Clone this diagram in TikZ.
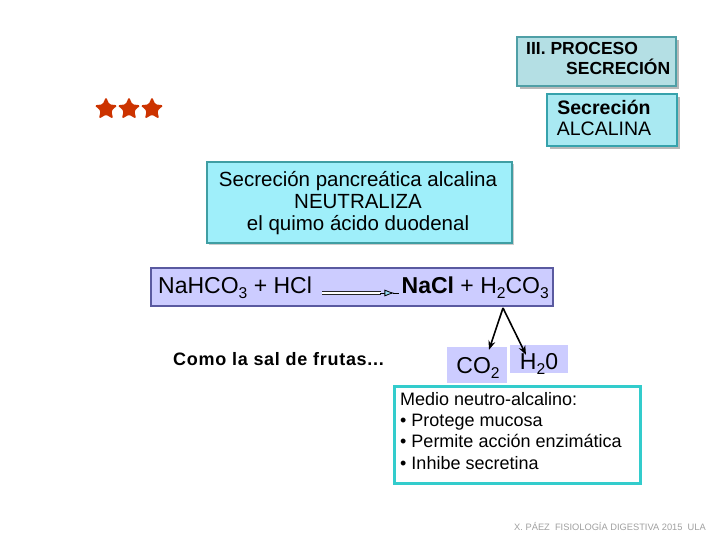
\documentclass[tikz,border=0pt]{standalone}
\usepackage{fontspec}
\setmainfont{Liberation Sans}
\usetikzlibrary{shapes.geometric,shadows,arrows.meta}
\definecolor{topfill}{HTML}{B4DFE4}
\definecolor{topdraw}{HTML}{4F9FA6}
\definecolor{alkfill}{HTML}{A9E9F2}
\definecolor{alkdraw}{HTML}{36A2AC}
\definecolor{panfill}{HTML}{9FEFFA}
\definecolor{pandraw}{HTML}{3F9EA3}
\definecolor{lav}{HTML}{CCCCFF}
\definecolor{lavdraw}{HTML}{5A5AA0}
\definecolor{turq}{HTML}{33CCCC}
\definecolor{starred}{HTML}{CC3300}
\newcommand{\chemsub}[1]{\raisebox{-0.4ex}{\scalebox{0.68}{#1}}}
\begin{document}
\begin{tikzpicture}[x=1pt,y=-1pt,
  shadowbox/.style={draw, line width=1.2pt, drop shadow={shadow xshift=3pt, shadow yshift=-3pt, fill=gray!55, opacity=1}},
  starnode/.style={star, star points=5, star point ratio=2.1, fill=starred, minimum size=24pt, inner sep=0pt, rounded corners=1.5pt},
  lavbox/.style={fill=lav, inner sep=0pt},
  arr/.style={-{Stealth[length=9pt,width=7pt]}, line width=1.6pt},
  rxnline/.style={line width=0.9pt, draw=black!85}
]
\useasboundingbox (0,0) rectangle (720,540);

% top title box
\node[shadowbox, draw=topdraw, fill=topfill, minimum width=159pt, minimum height=49pt] (title) at (596.5,61.5) {};
\node[font=\bfseries\fontsize{17.5}{20}\selectfont, align=left, anchor=north west, inner sep=0pt] (titletxt) at (526,42)
  {III. PROCESO\\\hspace*{40pt}SECRECIÓN};

% alcalina box
\node[shadowbox, draw=alkdraw, fill=alkfill, minimum width=130pt, minimum height=52pt] (alk) at (612,120) {};
\node[align=center, inner sep=0pt, font=\fontsize{19.5}{21}\selectfont] (alktxt) at (604,118)
  {\textbf{Secreción}\\ALCALINA};

% stars
\node[starnode] (s1) at (106,109) {};
\node[starnode] (s2) at (129,109) {};
\node[starnode] (s3) at (152,109) {};

% pancreatic box
\node[draw=pandraw, line width=1.5pt, fill=panfill, minimum width=305pt, minimum height=81pt,
  drop shadow={shadow xshift=2pt, shadow yshift=-2pt, fill=gray!40, opacity=1}] (pan) at (359.5,202.5) {};
\node[align=center, inner sep=0pt, font=\fontsize{20.5}{22}\selectfont] (pantxt) at (358,203)
  {Secreción pancreática alcalina\\NEUTRALIZA\\el quimo ácido duodenal};

% reaction box
\node[draw=lavdraw, line width=1.2pt, fill=lav, minimum width=402pt, minimum height=38pt] (rxn) at (352,287) {};
\node[anchor=west, inner sep=0pt, font=\fontsize{23}{26}\selectfont] (lhs) at (158,288) {NaHCO\chemsub{3} + HCl};
\node[anchor=east, inner sep=0pt, font=\fontsize{23}{26}\selectfont] (rhs) at (549,288) {\textbf{NaCl} + H\chemsub{2}CO\chemsub{3}};
\fill[white] ([xshift=10pt,yshift=-3.5pt]lhs.east) rectangle ([xshift=-20pt,yshift=-6.5pt]rhs.west);
\draw[rxnline] ([xshift=10pt,yshift=-3.5pt]lhs.east) -- ([xshift=-20pt,yshift=-3.5pt]rhs.west);
\draw[rxnline] ([xshift=10pt,yshift=-6.5pt]lhs.east) -- ([xshift=-20pt,yshift=-6.5pt]rhs.west);
\draw[line width=0.8pt, -{Latex[length=10pt,width=7pt,fill=cyan!40]}] ([xshift=-21pt,yshift=-5pt]rhs.west) -- ([xshift=-7pt,yshift=-5pt]rhs.west);
\draw[line width=0.8pt] ([xshift=-8pt,yshift=-5pt]rhs.west) -- ([xshift=-2pt,yshift=-5pt]rhs.west);

% fruit salt text
\node[anchor=west, inner sep=0pt, font=\bfseries\fontsize{18}{20}\selectfont\addfontfeatures{LetterSpace=4}] (fruta) at (173,359) {Como la sal de frutas...};

% products
\node[lavbox, minimum width=60pt, minimum height=36pt] (co2) at (477,365) {};
\node[inner sep=0pt, font=\fontsize{23}{26}\selectfont] (co2txt) at (478,368) {CO\chemsub{2}};
\node[lavbox, minimum width=58pt, minimum height=28pt] (h2o) at (539,359) {};
\node[inner sep=0pt, font=\fontsize{23}{26}\selectfont] (h2otxt) at (539,364) {H\chemsub{2}0};
\coordinate (split) at (503,308);
\draw[arr] (split) -- ([xshift=12pt,yshift=-3pt]co2.north);
\draw[arr] (split) -- ([xshift=-13pt,yshift=-10pt]h2o.north);

% medio box
\node[draw=turq, line width=3pt, fill=white, minimum width=246pt, minimum height=97pt] (medio) at (517,434.5) {};
\node[anchor=north west, align=left, inner sep=0pt, font=\fontsize{18}{21.3}\selectfont] (mediotxt) at (400,392)
  {Medio neutro-alcalino:\\• Protege mucosa\\• Permite acción enzimática\\• Inhibe secretina};

% footer
\node[anchor=east, inner sep=0pt, text=gray!75, font=\fontsize{9.3}{10}\selectfont] (foot) at (706,527)
  {X. PÁEZ\ \ FISIOLOGÍA DIGESTIVA 2015\ \ ULA};
\end{tikzpicture}
\end{document}
